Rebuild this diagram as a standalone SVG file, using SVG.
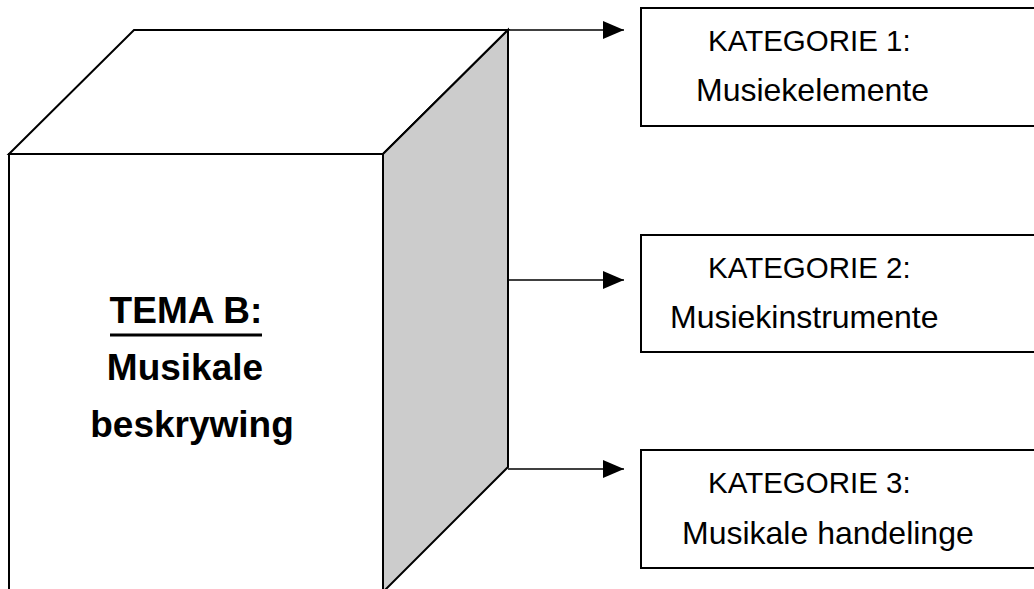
<svg xmlns="http://www.w3.org/2000/svg" width="1034" height="589" viewBox="0 0 1034 589">
<defs>
<style>
.face{fill:#fff;stroke:#000;stroke-width:2}
.side{fill:#cccccc;stroke:#000;stroke-width:2}
.box{fill:#fff;stroke:#000;stroke-width:2}
.conn{fill:none;stroke:#000;stroke-width:1.5}
.cap{font-family:"Liberation Sans",Arial,sans-serif;font-size:29.5px;fill:#000}
.reg{font-family:"Liberation Sans",Arial,sans-serif;font-size:32px;fill:#000}
.bold{font-family:"Liberation Sans",Arial,sans-serif;font-size:37px;font-weight:bold;fill:#000;text-anchor:middle}
</style>
<marker id="arr" viewBox="0 0 21 18" refX="21" refY="9" markerWidth="21" markerHeight="18" markerUnits="userSpaceOnUse" orient="auto">
<path d="M0,0 L21,9 L0,18 Z" fill="#000"/>
</marker>
</defs>
<rect width="1034" height="589" fill="#fff"/>
<g id="cube">
<polygon class="face" points="9,154 134,30 508,30 383,154"/>
<polygon class="side" points="383,154 508,30 508,467 383,592"/>
<rect class="face" x="9" y="154" width="374" height="440"/>
<text class="bold" x="186" y="323">TEMA B:</text>
<line x1="110" y1="335" x2="262" y2="335" stroke="#000" stroke-width="3"/>
<text class="bold" x="185" y="380">Musikale</text>
<text class="bold" x="192" y="437">beskrywing</text>
</g>
<g id="connectors">
<line class="conn" x1="508" y1="30" x2="624" y2="30" marker-end="url(#arr)"/>
<line class="conn" x1="508" y1="280" x2="624" y2="280" marker-end="url(#arr)"/>
<line class="conn" x1="508" y1="469" x2="624" y2="469" marker-end="url(#arr)"/>
</g>
<g id="cat1">
<rect class="box" x="641" y="8" width="400" height="118"/>
<text class="cap" x="708" y="51">KATEGORIE 1:</text>
<text class="reg" x="696" y="101">Musiekelemente</text>
</g>
<g id="cat2">
<rect class="box" x="641" y="235" width="400" height="117"/>
<text class="cap" x="708" y="278">KATEGORIE 2:</text>
<text class="reg" x="670" y="328">Musiekinstrumente</text>
</g>
<g id="cat3">
<rect class="box" x="641" y="450" width="400" height="118"/>
<text class="cap" x="708" y="493">KATEGORIE 3:</text>
<text class="reg" x="682" y="544">Musikale handelinge</text>
</g>
</svg>
